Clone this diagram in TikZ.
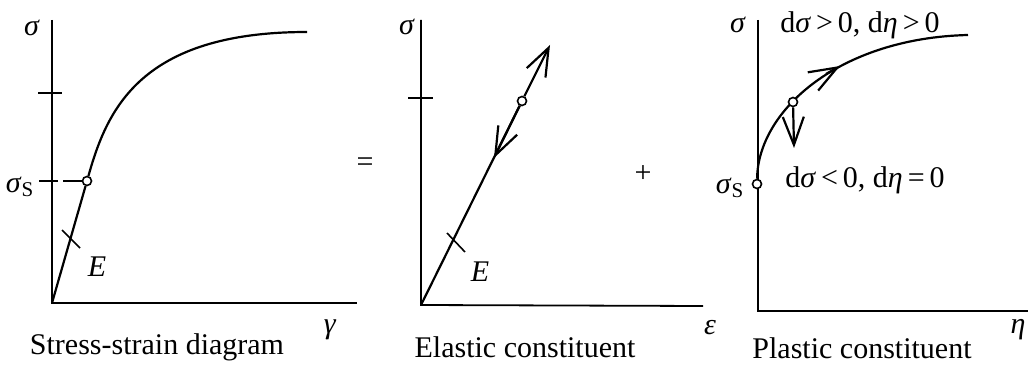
\documentclass[tikz,border=0pt]{standalone}
\usepackage{fontspec}
\setmainfont{Liberation Serif}
\usetikzlibrary{arrows.meta}

\begin{document}
\begin{tikzpicture}[
		x=0.5pt,y=-0.5pt,
		font=\fontsize{15}{18}\selectfont,
		ax/.style={line width=0.9pt},
		crv/.style={line width=1.1pt},
		tck/.style={line width=0.8pt},
		flow/.style={crv,-{Straight Barb[length=14pt,width=10.5pt]}},
		ring/.style={circle,draw,line width=0.8pt,fill=white,inner sep=0pt,minimum size=4.5pt},
		lbl/.style={inner sep=0pt}
		]
		\useasboundingbox (0,0) rectangle (1028,369);

		% stress-strain diagram
		\coordinate (o1) at (52,303);
		\coordinate (top1) at (52,20);
		\coordinate (end1) at (357,303);
		\coordinate (c1) at (307,32);
		\coordinate (sl1) at (39,181);
		\draw[ax] (top1) -- (o1) -- (end1);
		\node[ring] (s1) at (87,181) {};
		\draw[crv] (o1) -- (s1);
		\draw[crv] (s1) .. controls (107,110) and (140,32) .. (c1);
		\draw[tck,dash pattern=on 9.5pt off 2.5pt] (sl1) -- (s1);
		\draw[tck] (38,93) -- (62,93);
		\draw[tck] (62,230) -- (80,248);
		\node[lbl] (sig1) at (32,28) {\textit{σ}};
		\node[lbl] (ss1) at (20,187) {\textit{σ}\textsubscript{S}};
		\node[lbl] (E1) at (97,267) {\textit{E}};
		\node[lbl] (gam) at (330,330) {\textit{γ}};
		\node (t1) at (157,347) {Stress-strain diagram};

		\node (eq) at (365,165) {=};

		% elastic part
		\coordinate (o2) at (421,305);
		\coordinate (top2) at (421,20);
		\coordinate (end2) at (703,306);
		\coordinate (up2) at (550,45);
		\coordinate (dn2) at (494,158);
		\draw[ax] (top2) -- (o2) -- (end2);
		\node[ring] (s2) at (522,101) {};
		\draw[crv] (o2) -- (s2);
		\draw[flow] (s2) -- (up2);
		\draw[flow] (s2) -- (dn2);
		\draw[tck] (408,98) -- (433,98);
		\draw[tck] (447,233) -- (465,252);
		\node[lbl] (sig2) at (407,27) {\textit{σ}};
		\node[lbl] (E2) at (480,272) {\textit{E}};
		\node[lbl] (eps) at (710,328) {\textit{ε}};
		\node (t2) at (525,347) {Elastic constituent};

		\node (plus) at (643,174) {+};

		% plastic part
		\coordinate (o3) at (758,311);
		\coordinate (top3) at (758,20);
		\coordinate (end3) at (1030,311);
		\coordinate (c3) at (968,35);
		\coordinate (dn3) at (794,148);
		\coordinate (a3) at (826,74);
		\coordinate (b3) at (840,66);
		\draw[ax] (top3) -- (o3) -- (end3);
		\node[ring] (s3) at (757,184) {};
		\draw[crv] (s3) .. controls (758,110) and (840,38) .. (c3);
		\node[ring] (p3) at (793,102) {};
		\draw[flow] (p3) -- (dn3);
		\draw[flow] (a3) -- (b3);
		\node[lbl] (sig3) at (738,25) {\textit{σ}};
		\node[lbl] (ss3) at (730,188) {\textit{σ}\textsubscript{S}};
		\node[lbl] (load) at (860,25) {d\textit{σ}\,>\,0, d\textit{η}\,>\,0};
		\node[lbl] (unload) at (865,180) {d\textit{σ}\,<\,0, d\textit{η}\,=\,0};
		\node[lbl] (eta) at (1018,330) {\textit{η}};
		\node (t3) at (862,348) {Plastic constituent};
	\end{tikzpicture}
\end{document}
